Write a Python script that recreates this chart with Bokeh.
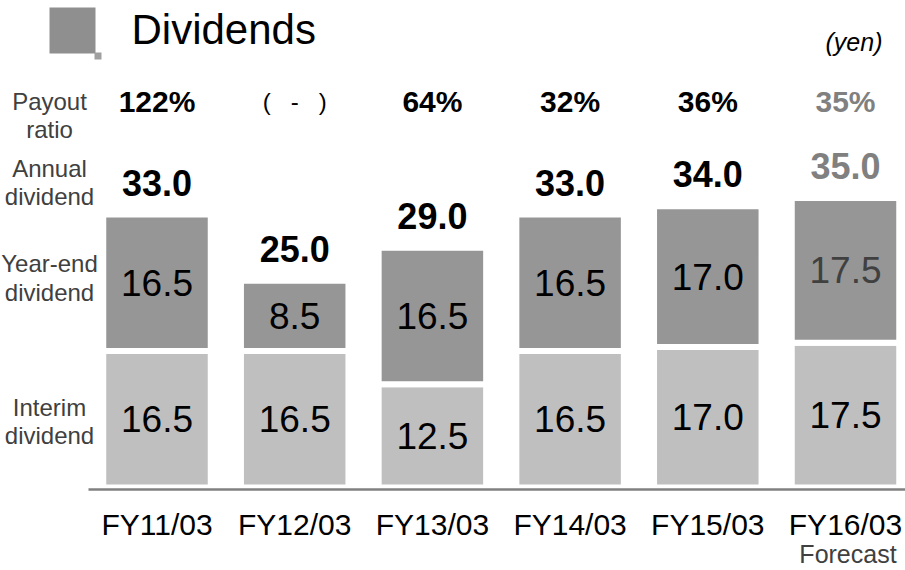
import numpy as np
from bokeh.plotting import figure
from bokeh.models import ColumnDataSource, Range1d
from bokeh.core.properties import value
from bokeh.embed import file_html
from bokeh.resources import INLINE

# ---------------- data ----------------
years = ["FY11/03", "FY12/03", "FY13/03", "FY14/03", "FY15/03", "FY16/03"]
interim = [16.5, 16.5, 12.5, 16.5, 17.0, 17.5]
year_end = [16.5, 8.5, 16.5, 16.5, 17.0, 17.5]
annual = [33.0, 25.0, 29.0, 33.0, 34.0, 35.0]
NB = "\u00a0"
payout = ["122%", "(" + NB * 3 + "-" + NB * 3 + ")", "64%", "32%", "36%", "35%"]
forecast_note = "Forecast"
row_labels = [["Payout", "ratio"], ["Annual", "dividend"],
              ["Year-end", "dividend"], ["Interim", "dividend"]]
title_text = "Dividends"
unit_text = "(yen)"

# ---------------- layout ----------------
W, H = 905, 570
PXU = 137.7      # px per category step
PXY = 8.27       # px per yen
X0 = -156.5 / PXU
X1 = X0 + W / PXU
Y1 = 487 / PXY
Y0 = Y1 - H / PXY


def dx(px):
    return X0 + px / PXU


def dy(py):
    return Y1 - py / PXY


def mid(baseline, size):
    # canvas-y of the text middle for a given alphabetic baseline
    return baseline - 0.358 * size


FONT = value("Liberation Sans")
BLACK = "#000000"
GRAY_TXT = "#808080"
LABEL_TXT = "#404040"

n = len(years)
xs = list(range(n))
emph = [BLACK] * (n - 1) + [GRAY_TXT]

src = ColumnDataSource(dict(x=xs, interim=interim, year_end=year_end))

p = figure(width=W, height=H, x_range=Range1d(X0, X1), y_range=Range1d(Y0, Y1),
           output_backend="svg", toolbar_location=None, min_border=0,
           x_axis_location=None, y_axis_location=None)
p.grid.visible = False
p.outline_line_color = None
p.background_fill_color = "white"
p.border_fill_color = "white"

# stacked bars
p.vbar_stack(["interim", "year_end"], x="x", width=107.5 / PXU,
             fill_color=["#bfbfbf", "#969696"], line_color="white",
             line_width=6, source=src)

# baseline
p.segment(x0=[dx(88)], y0=[dy(489)], x1=[X1], y1=[dy(489)],
          line_color="#808080", line_width=2.5)

# segment labels
interim_mid = [v / 2 for v in interim]
ye_mid = [a + b / 2 for a, b in zip(interim, year_end)]
p.text(x=xs, y=interim_mid, text=[f"{v:.1f}" for v in interim],
       text_font=FONT, text_font_size="37px", text_color=BLACK,
       text_align="center", text_baseline="middle")
p.text(x=xs, y=ye_mid, text=[f"{v:.1f}" for v in year_end],
       text_font=FONT, text_font_size="37px",
       text_color=[BLACK] * (n - 1) + [LABEL_TXT],
       text_align="center", text_baseline="middle")

# annual totals
p.text(x=xs, y=annual, text=[f"{v:.1f}" for v in annual], y_offset=-32,
       text_font=FONT, text_font_size="36px", text_font_style="bold",
       text_color=emph, text_align="center", text_baseline="middle")

# payout ratios
p.text(x=xs, y=[dy(mid(112, 30))] * n, text=payout,
       text_font=FONT, text_font_size=["30px", "24px", "30px", "30px", "30px", "30px"],
       text_font_style=["bold", "normal", "bold", "bold", "bold", "bold"],
       text_color=emph, text_align="center", text_baseline="middle")

# category labels
p.text(x=xs, y=[0] * n, text=years, y_offset=mid(535, 30) - 487,
       text_font=FONT, text_font_size="30px", text_color=BLACK,
       text_align="center", text_baseline="middle")
p.text(x=[xs[-1]], y=[0], text=[forecast_note], y_offset=mid(562, 25) - 487,
       x_offset=2.5, text_font=FONT, text_font_size="25px", text_color=LABEL_TXT,
       text_align="center", text_baseline="middle")

# row labels on the left
row_baselines = [[110, 138], [177, 205], [272, 301], [416, 444]]
lx, ly, lt = [], [], []
for lines, bls in zip(row_labels, row_baselines):
    for t, b in zip(lines, bls):
        lx.append(dx(49))
        ly.append(dy(mid(b, 24)))
        lt.append(t)
p.text(x=lx, y=ly, text=lt, text_font=FONT, text_font_size="24px",
       text_color=LABEL_TXT, text_align="center", text_baseline="middle")

# title icon + title
p.quad(left=[dx(49)], right=[dx(95)], top=[dy(7)], bottom=[dy(53)],
       fill_color="#8f8f8f", line_color=None)
p.quad(left=[dx(94)], right=[dx(101)], top=[dy(52)], bottom=[dy(59)],
       fill_color="#a0a0a0", line_color=None)
p.text(x=[dx(131)], y=[dy(mid(44, 42))], text=[title_text], text_font=FONT,
       text_font_size="42px", text_color=BLACK, text_align="left",
       text_baseline="middle")
p.text(x=[dx(853.5)], y=[dy(mid(50, 25))], text=[unit_text], text_font=FONT,
       text_font_size="25px", text_font_style="italic", text_color=BLACK,
       text_align="center", text_baseline="middle")

open("out.html", "w").write(file_html(p, INLINE))
